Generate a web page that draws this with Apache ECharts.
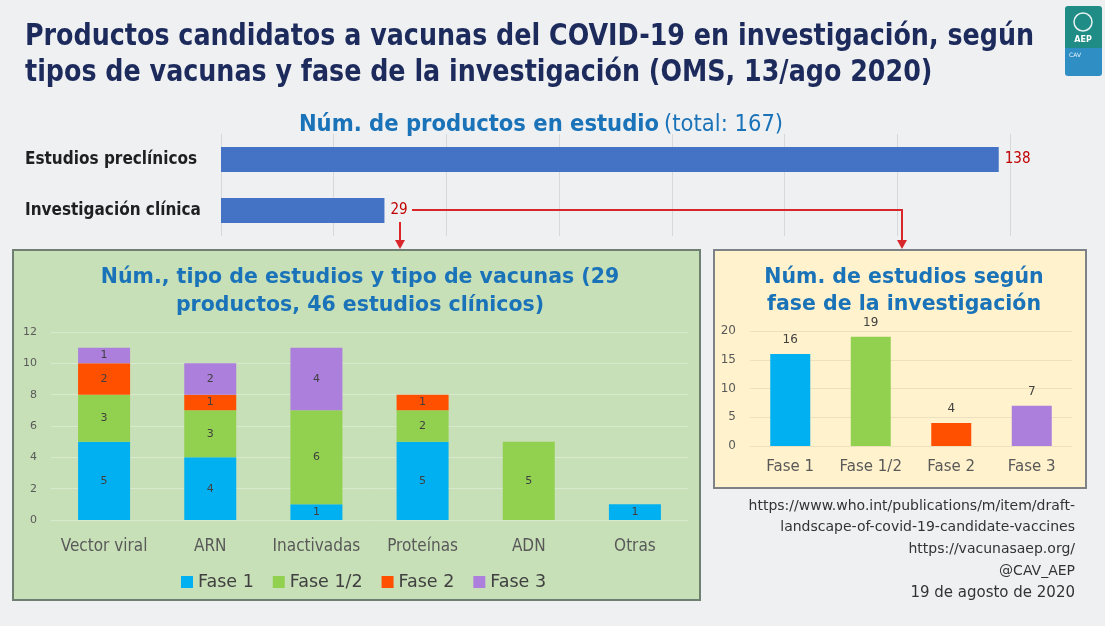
<!DOCTYPE html>
<html>
<head>
<meta charset="utf-8">
<script src="https://cdn.jsdelivr.net/npm/echarts@6/dist/echarts.min.js"></script>
<style>
  html, body { margin: 0; padding: 0; background: #eff0f2; }
  #chart { width: 1105px; height: 626px; }
</style>
</head>
<body>
<div id="chart"></div>
<script>
// top: products in study
const topCats = ['Estudios preclínicos', 'Investigación clínica']
const topValues = [138, 29]

// left: type of vaccine by phase (stacked)
const typeCats = ['Vector viral', 'ARN', 'Inactivadas', 'Proteínas', 'ADN', 'Otras']
const fase1 = [5, 4, 1, 5, 0, 1]
const fase12 = [3, 3, 6, 2, 5, 0]
const fase2 = [2, 1, 0, 1, 0, 0]
const fase3 = [1, 2, 4, 0, 0, 0]

// right: studies by phase
const phaseCats = ['Fase 1', 'Fase 1/2', 'Fase 2', 'Fase 3']
const phaseValues = [16, 19, 4, 7]

const titleLines = [
  'Productos candidatos a vacunas del COVID-19 en investigación, según',
  'tipos de vacunas y fase de la investigación (OMS, 13/ago 2020)'
]
const sources = [
  'https://www.who.int/publications/m/item/draft-',
  'landscape-of-covid-19-candidate-vaccines',
  'https://vacunasaep.org/',
  '@CAV_AEP',
  '19 de agosto de 2020'
]

const phaseColors = ['#00b0f0', '#92d050', '#ff5000', '#ad7fdc']
const NARROW = "'Liberation Sans Narrow', 'DejaVu Sans Condensed', sans-serif"
const WIDE = "'DejaVu Sans', Verdana, sans-serif"
const BLUE = '#1a73b8'

const chart = echarts.init(document.getElementById('chart'))

const stackLabel = {
  show: true,
  color: '#404040',
  fontSize: 11,
  fontFamily: WIDE,
  formatter: p => (p.value ? p.value : '')
}

const stackSeries = [fase1, fase12, fase2, fase3].map((data, i) => ({
  name: phaseCats[i],
  type: 'bar',
  stack: 'tipo',
  xAxisIndex: 1,
  yAxisIndex: 1,
  barWidth: 52,
  itemStyle: { color: phaseColors[i] },
  label: stackLabel,
  data
}))

const option = {
  backgroundColor: '#eff0f2',
  animation: false,
  title: [
    {
      text: '{b|Núm. de productos en estudio} {n|(total: 167)}',
      left: 536,
      top: 108,
      textAlign: 'center',
      textStyle: {
        rich: {
          b: { color: BLUE, fontFamily: NARROW, fontWeight: 'bold', fontSize: 23.5 },
          n: { color: BLUE, fontFamily: NARROW, fontWeight: 'normal', fontSize: 23.5 }
        }
      }
    },
    {
      text: 'Núm., tipo de estudios y tipo de vacunas (29\nproductos, 46 estudios clínicos)',
      left: 355,
      top: 259,
      textAlign: 'center',
      textStyle: { color: BLUE, fontFamily: WIDE, fontWeight: 'bold', fontSize: 20.5, lineHeight: 28 }
    },
    {
      text: 'Núm. de estudios según\nfase de la investigación',
      left: 899,
      top: 259,
      textAlign: 'center',
      textStyle: { color: BLUE, fontFamily: WIDE, fontWeight: 'bold', fontSize: 20.5, lineHeight: 27 }
    }
  ],
  legend: {
    data: phaseCats,
    left: 176,
    top: 568,
    itemWidth: 12,
    itemHeight: 12,
    itemGap: 19,
    icon: 'rect',
    textStyle: { color: '#404040', fontFamily: WIDE, fontSize: 17.5 }
  },
  grid: [
    { left: 221, right: 95, top: 134, height: 102 },
    { left: 51, right: 417, top: 332, bottom: 106 },
    { left: 750, right: 33, top: 331, bottom: 180 }
  ],
  xAxis: [
    {
      gridIndex: 0, type: 'value', min: 0, max: 140, interval: 20,
      axisLabel: { show: false }, axisLine: { show: false }, axisTick: { show: false },
      splitLine: { lineStyle: { color: '#d6d8da' } }
    },
    {
      gridIndex: 1, type: 'category', data: typeCats,
      axisLine: { show: false }, axisTick: { show: false },
      axisLabel: { interval: 0, color: '#595959', fontFamily: NARROW, fontSize: 17, margin: 18 }
    },
    {
      gridIndex: 2, type: 'category', data: phaseCats,
      axisLine: { show: false }, axisTick: { show: false },
      axisLabel: { interval: 0, color: '#595959', fontFamily: WIDE, fontSize: 15, margin: 14 }
    }
  ],
  yAxis: [
    {
      gridIndex: 0, type: 'category', data: topCats, inverse: true,
      axisLine: { show: false }, axisTick: { show: false },
      axisLabel: { align: 'left', margin: 196, color: '#1f1f1f', fontFamily: NARROW, fontWeight: 'bold', fontSize: 17 }
    },
    {
      gridIndex: 1, type: 'value', min: 0, max: 12, interval: 2,
      axisLine: { show: false }, axisTick: { show: false },
      axisLabel: { color: '#595959', fontFamily: WIDE, fontSize: 11, margin: 14 },
      splitLine: { lineStyle: { color: 'rgba(255,255,255,0.3)' } }
    },
    {
      gridIndex: 2, type: 'value', min: 0, max: 20, interval: 5,
      axisLine: { show: false }, axisTick: { show: false },
      axisLabel: { color: '#595959', fontFamily: WIDE, fontSize: 12, margin: 14 },
      splitLine: { lineStyle: { color: '#ece0bd' } }
    }
  ],
  series: [
    {
      name: 'Productos',
      type: 'bar',
      xAxisIndex: 0,
      yAxisIndex: 0,
      barWidth: 25,
      itemStyle: { color: '#4472c4' },
      label: { show: true, position: 'right', distance: 6, color: '#c00000', fontFamily: NARROW, fontSize: 15 },
      data: topValues
    },
    ...stackSeries,
    {
      name: 'Estudios por fase',
      type: 'bar',
      xAxisIndex: 2,
      yAxisIndex: 2,
      barWidth: 40,
      label: { show: true, position: 'top', distance: 8, color: '#404040', fontFamily: WIDE, fontSize: 12 },
      data: phaseValues.map((v, i) => ({ value: v, itemStyle: { color: phaseColors[i] } }))
    }
  ],
  graphic: [
    // main title, squeezed to look like the condensed original
    ...titleLines.map((t, i) => ({
      type: 'text',
      x: 25,
      y: 21 + i * 36,
      scaleX: 0.91,
      z: 5,
      style: { text: t, fill: '#1c2a5c', font: 'bold 31px ' + NARROW }
    })),
    // panels
    { type: 'rect', z: -10, shape: { x: 13, y: 250, width: 687, height: 350 },
      style: { fill: '#c8e0b8', stroke: '#6f7f72', lineWidth: 2 } },
    { type: 'rect', z: -10, shape: { x: 714, y: 250, width: 372, height: 238 },
      style: { fill: '#fff2cc', stroke: '#7d8287', lineWidth: 2 } },
    // red connectors from "29"
    { type: 'polyline', z: 5, shape: { points: [[412, 210], [902, 210], [902, 242]] },
      style: { stroke: '#d9262b', lineWidth: 2, fill: null } },
    { type: 'polygon', z: 5, shape: { points: [[897, 240], [907, 240], [902, 249]] },
      style: { fill: '#d9262b' } },
    { type: 'line', z: 5, shape: { x1: 400, y1: 222, x2: 400, y2: 242 },
      style: { stroke: '#d9262b', lineWidth: 2 } },
    { type: 'polygon', z: 5, shape: { points: [[395, 240], [405, 240], [400, 249]] },
      style: { fill: '#d9262b' } },
    // logo
    { type: 'rect', z: 5, shape: { x: 1065, y: 6, width: 37, height: 42, r: [3, 3, 0, 0] }, style: { fill: '#1f8c86' } },
    { type: 'rect', z: 5, shape: { x: 1065, y: 48, width: 37, height: 28, r: [0, 0, 3, 3] }, style: { fill: '#2f8fc4' } },
    { type: 'circle', z: 6, shape: { cx: 1083, cy: 22, r: 9 }, style: { fill: 'none', stroke: '#e8f4f2', lineWidth: 1.5 } },
    { type: 'text', z: 6, style: { x: 1083, y: 36, text: 'AEP', fill: '#ffffff', font: 'bold 8px ' + WIDE, align: 'center' } },
    { type: 'text', z: 6, style: { x: 1069, y: 52, text: 'CAV', fill: '#e6f2fa', font: '6px ' + WIDE } },
    // sources
    ...sources.map((t, i) => ({
      type: 'text',
      z: 5,
      style: {
        x: 1075,
        y: [499, 520, 542, 564, 586][i],
        text: t,
        align: 'right',
        fill: '#333333',
        font: (i === 4 ? '15px ' : '14px ') + WIDE
      }
    }))
  ]
}

chart.setOption(option)
</script>
</body>
</html>
